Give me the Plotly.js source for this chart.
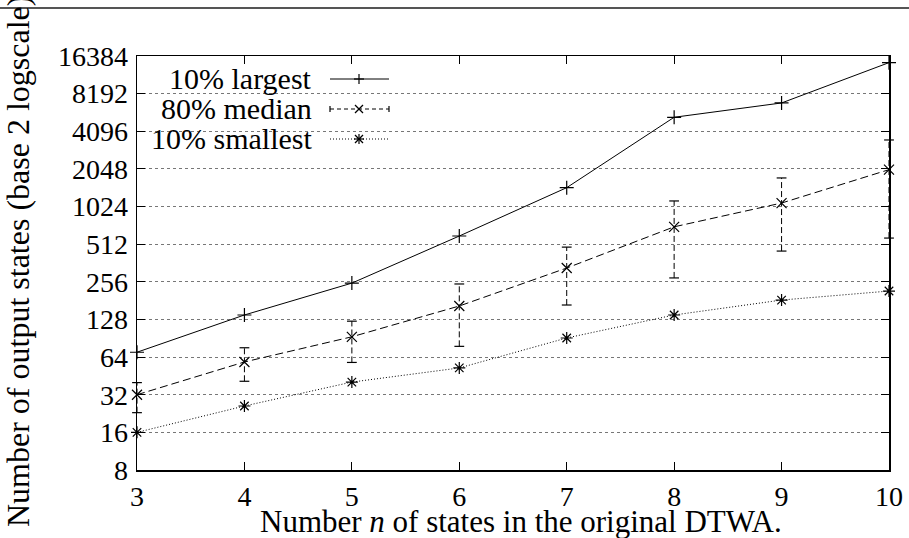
<!DOCTYPE html>
<html>
<head>
<meta charset="utf-8">
<script src="https://cdn.plot.ly/plotly-3.0.1.min.js"></script>
<style>html,body{margin:0;padding:0;background:#fff;}</style>
</head>
<body>
<div id="chart"></div>
<script>
// Data
const nStates = [3, 4, 5, 6, 7, 8, 9, 10];
const largest10 = [70, 139, 250, 595, 1450, 5300, 6900, 14500];
const median80 = [32, 58.5, 93, 164, 330, 705, 1092, 2020];
const medianLow = [23, 41, 58, 78, 167, 275, 451, 573];
const medianHigh = [40, 76, 124, 246, 485, 1135, 1734, 3490];
const smallest10 = [16, 26, 40.4, 52.4, 91, 139, 183, 216];
const yTickVals = [8, 16, 32, 64, 128, 256, 512, 1024, 2048, 4096, 8192, 16384];
const yTickText = yTickVals.map(String);
const xTickVals = [3, 4, 5, 6, 7, 8, 9, 10];
const legendNames = ['10% largest', '80% median', '10% smallest'];

const FONT = 'Liberation Serif';
const L = 137, R = 889, T = 56, B = 470;
const px2x = p => (p - L) / (R - L);
const py2y = p => (B - p) / (B - T);

// error-bar vertical segments built from data arrays
const ebX = [], ebY = [];
nStates.forEach((n, i) => { ebX.push(n, n, null); ebY.push(medianLow[i], medianHigh[i], null); });

const traces = [
  {x: ebX, y: ebY, mode: 'lines', line: {color: '#000', width: 1, dash: '6px,3px'}, showlegend: false, hoverinfo: 'skip', cliponaxis: false},
  {x: nStates.concat(nStates), y: medianLow.concat(medianHigh), mode: 'markers', cliponaxis: false,
   marker: {symbol: 'line-ew', size: 7, line: {color: '#000', width: 1.2}}, showlegend: false, hoverinfo: 'skip'},
  {x: nStates, y: largest10, name: legendNames[0], mode: 'lines+markers', cliponaxis: false,
   line: {color: '#000', width: 1}, marker: {symbol: 'cross-thin', size: 10, line: {color: '#000', width: 1.2}}},
  {x: nStates, y: median80, name: legendNames[1], mode: 'lines+markers', cliponaxis: false,
   line: {color: '#000', width: 1, dash: '8px,4px'}, marker: {symbol: 'x-thin', size: 10, line: {color: '#000', width: 1.2}}},
  {x: nStates, y: smallest10, name: legendNames[2], mode: 'lines+markers', cliponaxis: false,
   line: {color: '#000', width: 1, dash: '1px,2px'}, marker: {symbol: 'asterisk', size: 10, line: {color: '#000', width: 1.2}}}
];

// manual legend (text on the left, sample on the right, like gnuplot)
const rowsY = [79, 109, 139];
const dashes = ['solid', '4px,3px', '1px,2px'];
const shapes = [
  {type: 'rect', xref: 'paper', yref: 'paper', x0: px2x(138), x1: px2x(400), y0: py2y(152), y1: py2y(57),
   fillcolor: '#fff', line: {width: 0}, layer: 'between'},
  {type: 'line', xref: 'paper', yref: 'paper', x0: px2x(0), x1: px2x(909), y0: py2y(8), y1: py2y(8),
   line: {color: '#555', width: 2}}
];
const annotations = [];
const seg = (x0, y0, x1, y1) => shapes.push({type: 'line', xref: 'paper', yref: 'paper',
  x0: px2x(x0), x1: px2x(x1), y0: py2y(y0), y1: py2y(y1), line: {color: '#000', width: 1.2}});
rowsY.forEach((ry, i) => {
  annotations.push({xref: 'paper', yref: 'paper', x: px2x(314), y: py2y(ry - 1), xanchor: 'right', yanchor: 'middle',
    text: legendNames[i], showarrow: false, font: {family: FONT, size: 30, color: '#000'}});
  shapes.push({type: 'line', xref: 'paper', yref: 'paper', x0: px2x(330), x1: px2x(389), y0: py2y(ry), y1: py2y(ry),
    line: {color: '#000', width: 1, dash: dashes[i]}});
  const cx = 359, s = 5;
  if (i === 0 || i === 2) { seg(cx, ry - s, cx, ry + s); seg(cx - s, ry, cx + s, ry); }
  if (i === 1 || i === 2) { seg(cx - 4, ry - 4, cx + 4, ry + 4); seg(cx - 4, ry + 4, cx + 4, ry - 4); }
  if (i === 1) { seg(330, ry - 3, 330, ry + 3); seg(389, ry - 3, 389, ry + 3); }
});

annotations.push({xref: 'paper', yref: 'paper', x: px2x(18), y: py2y(262), xanchor: 'center', yanchor: 'middle',
  textangle: -90, text: 'Number of output states (base 2 logscale)', showarrow: false,
  font: {family: FONT, size: 32, color: '#000'}});
annotations.push({xref: 'paper', yref: 'paper', x: px2x(521), y: py2y(521), xanchor: 'center', yanchor: 'middle',
  text: 'Number <i>n</i> of states in the original DTWA.', showarrow: false,
  font: {family: FONT, size: 31, color: '#000'}});

const layout = {
  width: 909, height: 538,
  margin: {l: L, r: 909 - R, t: T, b: 538 - B},
  paper_bgcolor: '#fff', plot_bgcolor: '#fff',
  showlegend: false,
  font: {family: FONT, size: 28, color: '#000'},
  xaxis: {
    range: [3, 10], tickvals: xTickVals, ticktext: xTickVals.map(String),
    ticks: 'inside', ticklen: 8, tickwidth: 1, tickcolor: '#000',
    showline: true, linecolor: '#000', linewidth: 1.5, mirror: 'allticks',
    showgrid: false, zeroline: false, tickfont: {family: FONT, size: 28, color: '#000'}, ticklabelstandoff: 1,
    automargin: false
  },
  yaxis: {
    type: 'log', range: [Math.log10(8), Math.log10(16384)],
    tickvals: yTickVals, ticktext: yTickText,
    ticks: 'inside', ticklen: 8, tickwidth: 1, tickcolor: '#000',
    showline: true, linecolor: '#000', linewidth: 1.5, mirror: 'allticks',
    showgrid: true, gridcolor: '#777', gridwidth: 1, griddash: 'dot',
    zeroline: false, tickfont: {family: FONT, size: 28, color: '#000'}, ticklabelstandoff: 2,
    automargin: false
  },
  shapes: shapes,
  annotations: annotations
};

Plotly.newPlot('chart', traces, layout, {displayModeBar: false, staticPlot: true});
</script>
</body>
</html>
